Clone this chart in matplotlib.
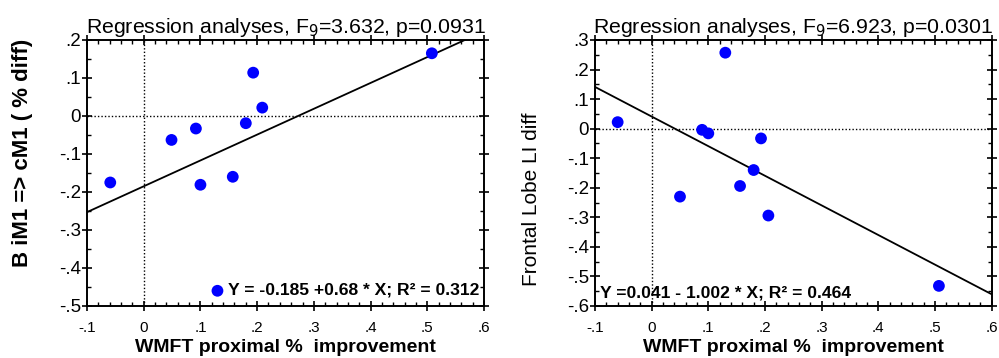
"""Two regression scatter panels: connectivity and laterality change vs WMFT gain."""

import numpy as np
import matplotlib.pyplot as plt
from matplotlib.ticker import FuncFormatter, MultipleLocator

plt.rcParams["font.family"] = ["Liberation Sans", "DejaVu Sans"]

# WMFT proximal % improvement per subject
wmft_left = [-0.059, 0.049, 0.092, 0.100, 0.130, 0.157, 0.180, 0.193, 0.209, 0.508]
im1_cm1_diff = [-0.175, -0.063, -0.033, -0.181, -0.460, -0.160, -0.019, 0.114, 0.022, 0.165]

wmft_right = [-0.060, 0.050, 0.089, 0.100, 0.130, 0.156, 0.180, 0.193, 0.206, 0.507]
frontal_li_diff = [0.022, -0.230, -0.004, -0.016, 0.257, -0.194, -0.140, -0.033, -0.294, -0.532]

# fitted regression (intercept, slope) and summary stats
fit_left = (-0.185, 0.68)
fit_right = (0.041, -1.002)
titles = [
    r"Regression analyses, F$_9$=3.632, p=0.0931",
    r"Regression analyses, F$_9$=6.923, p=0.0301",
]
equations = [
    "Y = -0.185 +0.68 * X; R² = 0.312",
    "Y =0.041 - 1.002 * X; R² = 0.464",
]
ylabels = ["B iM1 => cM1 ( % diff)", "Frontal Lobe LI diff"]
xlabel = "WMFT proximal %  improvement"


def _short_decimal(value, _pos):
    """Format ticks as .2 / -.1 / 0, dropping the leading zero."""
    if abs(value) < 1e-9:
        return "0"
    text = f"{value:.1f}"
    return text.replace("0.", ".")


def draw_panel(ax, x, y, fit, title, equation, eq_pos, ylabel, ylabel_y, ylabel_bold, ylim):
    ax.set_xlim(-0.1, 0.6)
    ax.set_ylim(*ylim)

    ax.axhline(0, color="black", lw=1.0, ls=(0, (1, 1.5)), zorder=1)
    ax.axvline(0, color="black", lw=1.0, ls=(0, (1, 1.5)), zorder=1)

    xs = np.array([-0.1, 0.6])
    ax.plot(xs, fit[0] + fit[1] * xs, color="black", lw=1.3, zorder=2)
    ax.scatter(x, y, s=72, color="#0000ff", edgecolors="none", zorder=3)

    ax.text(eq_pos[0], eq_pos[1], equation, fontsize=12.6, fontweight="bold",
            ha="left", va="center", zorder=4)

    ax.set_title(title, fontsize=15.3, pad=5)
    ax.set_xlabel(xlabel, fontsize=14, fontweight="bold", labelpad=3)
    ax.set_ylabel(ylabel, fontsize=16 if ylabel_bold else 15,
                  fontweight="bold" if ylabel_bold else "normal")
    ax.yaxis.set_label_coords(-0.137, ylabel_y)

    ax.xaxis.set_major_locator(MultipleLocator(0.1))
    ax.xaxis.set_minor_locator(MultipleLocator(0.02))
    ax.yaxis.set_major_locator(MultipleLocator(0.1))
    ax.yaxis.set_minor_locator(MultipleLocator(0.05))
    ax.xaxis.set_major_formatter(FuncFormatter(_short_decimal))
    ax.yaxis.set_major_formatter(FuncFormatter(_short_decimal))

    ax.tick_params(which="major", direction="inout", length=7, width=1.2,
                   top=True, right=True)
    ax.tick_params(which="minor", direction="in", length=3, width=1.0,
                   top=True, right=True)
    ax.tick_params(axis="x", which="major", labelsize=11, pad=7)
    ax.tick_params(axis="y", which="major", labelsize=13.5, pad=1)
    for spine in ax.spines.values():
        spine.set_linewidth(1.4)


fig = plt.figure(figsize=(9.99, 3.58), dpi=100)
ax_left = fig.add_axes([0.0871, 0.1453, 0.3974, 0.743])
ax_right = fig.add_axes([0.5956, 0.1453, 0.3970, 0.743])

draw_panel(ax_left, wmft_left, im1_cm1_diff, fit_left, titles[0], equations[0],
           (0.148, -0.458), ylabels[0], 0.575, True, (-0.5, 0.2))
draw_panel(ax_right, wmft_right, frontal_li_diff, fit_right, titles[1], equations[1],
           (-0.092, -0.556), ylabels[1], 0.40, False, (-0.6, 0.3))

fig.savefig("out.png", dpi=100)
plt.close(fig)
